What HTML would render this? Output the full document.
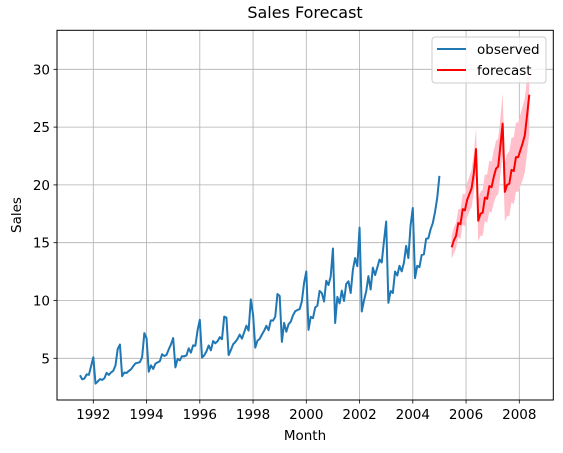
<!DOCTYPE html>
<html><head><meta charset="utf-8"><style>
body{margin:0;background:#fff}
svg{display:block;font-family:"DejaVu Sans","Liberation Sans",sans-serif}
</style></head><body>
<svg id="chart" width="563" height="453" viewBox="0 0 563 453" xmlns="http://www.w3.org/2000/svg">
<rect width="563" height="453" fill="#fff"/>
<g id="grid"></g>
<g id="band"></g>
<g id="series"></g>
<rect x="57" y="30.3" width="496.3" height="369.7" fill="none" stroke="#000" stroke-width="1"/>
<g id="ticks" font-size="13.5" fill="#000"></g>
<text x="305" y="18" text-anchor="middle" font-size="16">Sales Forecast</text>
<text x="305" y="440" text-anchor="middle" font-size="13.5">Month</text>
<text transform="translate(21,215) rotate(-90)" text-anchor="middle" font-size="13.5">Sales</text>
<g>
<rect x="432" y="37" width="114" height="46" rx="3" fill="#fff" fill-opacity="0.8" stroke="#ccc"/>
<line x1="437" y1="49" x2="466" y2="49" stroke="#1f77b4" stroke-width="2"/>
<text x="477" y="54" font-size="13.5">observed</text>
<line x1="437" y1="70" x2="466" y2="70" stroke="red" stroke-width="2"/>
<text x="477" y="75" font-size="13.5">forecast</text>
</g>
</svg>
<script>
const observed = [3.53,3.18,3.25,3.61,3.57,4.31,5.09,2.81,2.99,3.20,3.13,3.27,3.74,3.56,3.78,3.92,4.39,5.81,6.19,3.45,3.77,3.73,3.91,4.05,4.32,4.56,4.61,4.67,5.09,7.18,6.73,3.84,4.39,4.08,4.54,4.65,4.75,5.35,5.20,5.30,5.77,6.20,6.75,4.22,4.95,4.82,5.19,5.17,5.26,5.86,5.49,6.12,6.09,7.42,8.33,5.07,5.26,5.60,6.11,5.69,6.49,6.30,6.47,6.83,6.65,8.61,8.52,5.28,5.71,6.21,6.41,6.67,7.05,6.70,7.25,7.82,7.40,10.10,8.80,5.92,6.53,6.68,7.06,7.38,7.81,7.43,8.28,8.26,8.60,10.56,10.39,6.42,8.06,7.30,7.94,8.17,8.72,9.07,9.18,9.25,9.93,11.53,12.51,7.46,8.59,8.47,9.39,9.56,10.83,10.64,9.91,11.71,11.34,12.08,14.50,8.05,10.31,9.75,10.85,9.96,11.44,11.66,10.65,12.65,13.67,12.97,16.30,9.05,10.00,10.79,12.11,10.95,12.84,12.20,12.85,13.54,13.29,15.13,16.83,9.80,10.82,10.65,12.51,12.16,13.00,12.52,13.27,14.73,13.67,16.50,18.00,11.94,13.00,12.88,13.94,13.99,15.34,15.37,16.14,16.69,17.64,18.87,20.78];
const forecast = [14.6,15.2,15.6,16.7,16.6,17.9,17.8,18.7,19.2,19.7,21.0,23.1,16.9,17.5,17.6,18.9,18.8,19.9,19.8,20.7,21.4,21.6,23.4,25.3,19.4,20.0,20.1,21.3,21.2,22.4,22.4,23.0,23.6,24.3,26.0,27.8];
const upper = [15.6,16.3,16.7,17.9,17.9,19.2,19.2,20.2,20.7,21.3,22.7,24.9,18.7,19.4,19.6,20.9,20.9,22.1,22.0,23.0,23.8,24.0,25.9,27.9,22.0,22.7,22.9,24.1,24.1,25.4,25.4,26.1,26.8,27.5,29.3,31.2];
const lower = [13.6,14.1,14.5,15.5,15.3,16.6,16.4,17.2,17.7,18.1,19.3,21.3,15.1,15.6,15.6,16.9,16.7,17.7,17.6,18.4,19.0,19.2,20.9,22.7,16.8,17.3,17.3,18.5,18.3,19.4,19.4,19.9,20.4,21.1,22.7,24.4];
const obsStart = 1991.5;
const fcStart = 2005.458;
const xTicks = [1992,1994,1996,1998,2000,2002,2004,2006,2008];
const yTicks = [5,10,15,20,25,30];

const NS = "http://www.w3.org/2000/svg";
function X(t){ return 93.3 + (t - 1992) * 26.625; }
function Y(v){ return 358.3 - (v - 5) * 11.56; }
function mk(tag, attrs, parent){
  const e = document.createElementNS(NS, tag);
  for (const k in attrs) e.setAttribute(k, attrs[k]);
  parent.appendChild(e); return e;
}
const grid = document.getElementById('grid');
const ticks = document.getElementById('ticks');
xTicks.forEach(t => {
  const x = X(t);
  const g = mk('line', {x1:x, x2:x, y1:30.3, y2:400, stroke:'#b0b0b0', 'stroke-width':0.8}, grid);
  
  
  const tk = mk('line', {x1:x, x2:x, y1:400, y2:403.5, stroke:'#000', 'stroke-width':0.8}, ticks);
  
  
  const lb = mk('text', {x:x, y:419, 'text-anchor':'middle'}, ticks);
  lb.textContent = t;
  
  
});
yTicks.forEach(v => {
  const y = Y(v);
  const g = mk('line', {x1:57, x2:553.3, y1:y, y2:y, stroke:'#b0b0b0', 'stroke-width':0.8}, grid);
  
  
  const tk = mk('line', {x1:53.5, x2:57, y1:y, y2:y, stroke:'#000', 'stroke-width':0.8}, ticks);
  
  
  const lb = mk('text', {x:50, y:y+5, 'text-anchor':'end'}, ticks);
  lb.textContent = v;
  
  
});
// confidence band
let pts = [];
upper.forEach((v,i) => pts.push(X(fcStart + i/12).toFixed(2) + ',' + Y(v).toFixed(2)));
for (let i = lower.length - 1; i >= 0; i--) pts.push(X(fcStart + i/12).toFixed(2) + ',' + Y(lower[i]).toFixed(2));
const band = mk('polygon', {points: pts.join(' '), fill:'pink', stroke:'none'}, document.getElementById('band'));


const series = document.getElementById('series');
const ol = mk('polyline', {points: observed.map((v,i)=>X(obsStart + i/12).toFixed(2)+','+Y(v).toFixed(2)).join(' '), fill:'none', stroke:'#1f77b4', 'stroke-width':2, 'stroke-linejoin':'round'}, series);


const fl = mk('polyline', {points: forecast.map((v,i)=>X(fcStart + i/12).toFixed(2)+','+Y(v).toFixed(2)).join(' '), fill:'none', stroke:'red', 'stroke-width':2, 'stroke-linejoin':'round'}, series);


</script>
</body></html>
